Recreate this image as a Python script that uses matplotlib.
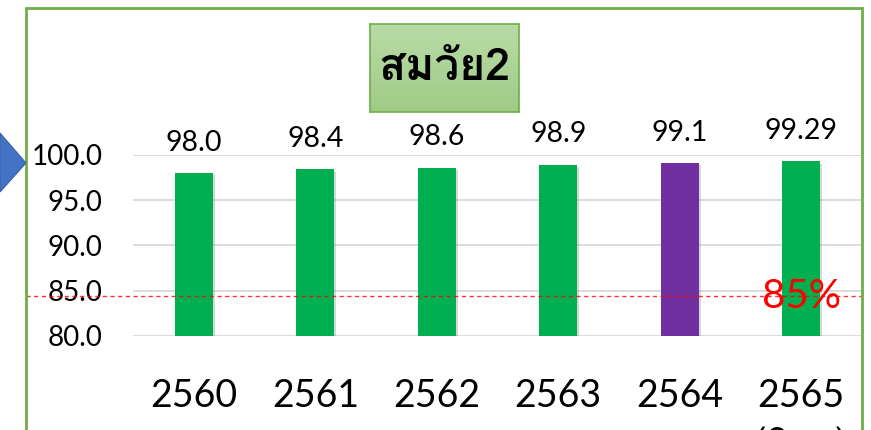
import matplotlib
matplotlib.use("Agg")
import matplotlib.pyplot as plt
from matplotlib import font_manager
from matplotlib.ft2font import FT2Font
from matplotlib.patches import Rectangle, Polygon
from matplotlib.colors import LinearSegmentedColormap
import matplotlib.patheffects as pe
import numpy as np

years = ["2560", "2561", "2562", "2563", "2564", "2565"]
values = [98.0, 98.4, 98.6, 98.9, 99.1, 99.29]
value_labels = ["98.0", "98.4", "98.6", "98.9", "99.1", "99.29"]
bar_colors = ["#00B050", "#00B050", "#00B050", "#00B050", "#7030A0", "#00B050"]
yticks = [80, 85, 90, 95, 100]
target = 84.4
title = "สมวัย2"
sub_label = "(9 ด.)"


def thai_families():
    found = []
    for f in font_manager.fontManager.ttflist:
        try:
            cm = FT2Font(f.fname).get_charmap()
        except Exception:
            continue
        if 0x0E2A in cm and f.name not in found:
            found.append(f.name)
    return found


thai_found = thai_families()

W, H = 871, 430
fig = plt.figure(figsize=(W / 100, H / 100), dpi=100)
fig.patch.set_facecolor("white")


def fx(px):
    return px / W


def fy(py):
    return 1 - py / H


num_font = ["Lato", "DejaVu Sans"]
thai_font = thai_found[:3] + ["DejaVu Sans"]

# Outer green frame
fig.patches.append(Rectangle((fx(26), fy(440)), fx(862) - fx(26), fy(8) - fy(440),
                             transform=fig.transFigure, fill=False,
                             edgecolor="#70AD47", linewidth=2, zorder=0))

# Blue arrow at left edge
fig.patches.append(Polygon([(fx(0), fy(133)), (fx(26), fy(163)), (fx(0), fy(192))],
                           closed=True, transform=fig.transFigure,
                           facecolor="#4472C4", edgecolor="#3A62A8", linewidth=0.8, zorder=5))

ax = fig.add_axes([fx(133), fy(336), fx(862) - fx(133), fy(155) - fy(336)])
ax.set_facecolor("none")
x = np.arange(len(years))
bars = ax.bar(x, [v - 80 for v in values], bottom=80, width=0.31, color=bar_colors, zorder=3)
for b in bars:
    b.set_path_effects([pe.SimplePatchShadow(offset=(1.5, -1.5), shadow_rgbFace="gray", alpha=0.3), pe.Normal()])

ax.set_ylim(80, 100)
ax.set_xlim(-0.5, len(years) - 0.5)
ax.set_yticks(yticks)
ax.set_yticklabels([f"{t:.1f}" for t in yticks], fontsize=20, family=num_font)
ax.set_xticks(x)
ax.set_xticklabels(years, fontsize=27, family=num_font)
ax.tick_params(axis="y", length=0, pad=22)
ax.tick_params(axis="x", length=0, pad=30)
for s in ax.spines.values():
    s.set_visible(False)
ax.yaxis.grid(True, color="#D9D9D9", linewidth=1.3, zorder=0)
ax.set_axisbelow(True)

for xi, v, lab in zip(x, values, value_labels):
    ax.annotate(lab, (xi, v), xytext=(0, 22), textcoords="offset points",
                ha="center", va="center", fontsize=20.5, family=num_font,
                annotation_clip=False)

# Target line (drawn across from the frame)
ax.axhline(target, xmin=-(133 - 26) / (862 - 133), xmax=1.0, color="#FF0000",
           linestyle=(0, (3, 2.5)), linewidth=1, clip_on=False, zorder=4, alpha=0.8)
ax.text(5, target, "85%", color="#FF0000", fontsize=29, family=num_font,
        ha="center", va="center", zorder=6)

# Sub-label under last year (cut off at the bottom, as in the reference)
fig.text(fx(801), fy(444), sub_label, fontsize=27, family=thai_font, ha="center", va="center")

# Title box with a vertical green gradient
tax = fig.add_axes([fx(370), fy(112), fx(519) - fx(370), fy(24) - fy(112)])
grad_cmap = LinearSegmentedColormap.from_list("g", ["#A0CB86", "#B9DBA7"])
tax.imshow(np.linspace(0, 1, 100).reshape(-1, 1), aspect="auto", cmap=grad_cmap,
           origin="lower", extent=[0, 1, 0, 1])
tax.set_xticks([])
tax.set_yticks([])
for s in tax.spines.values():
    s.set_edgecolor("#70AD47")
    s.set_linewidth(1.2)
tax.text(0.5, 0.5, title, fontsize=32, fontweight="bold", family=thai_font,
         ha="center", va="center", transform=tax.transAxes)

fig.savefig("out.png", dpi=100)
